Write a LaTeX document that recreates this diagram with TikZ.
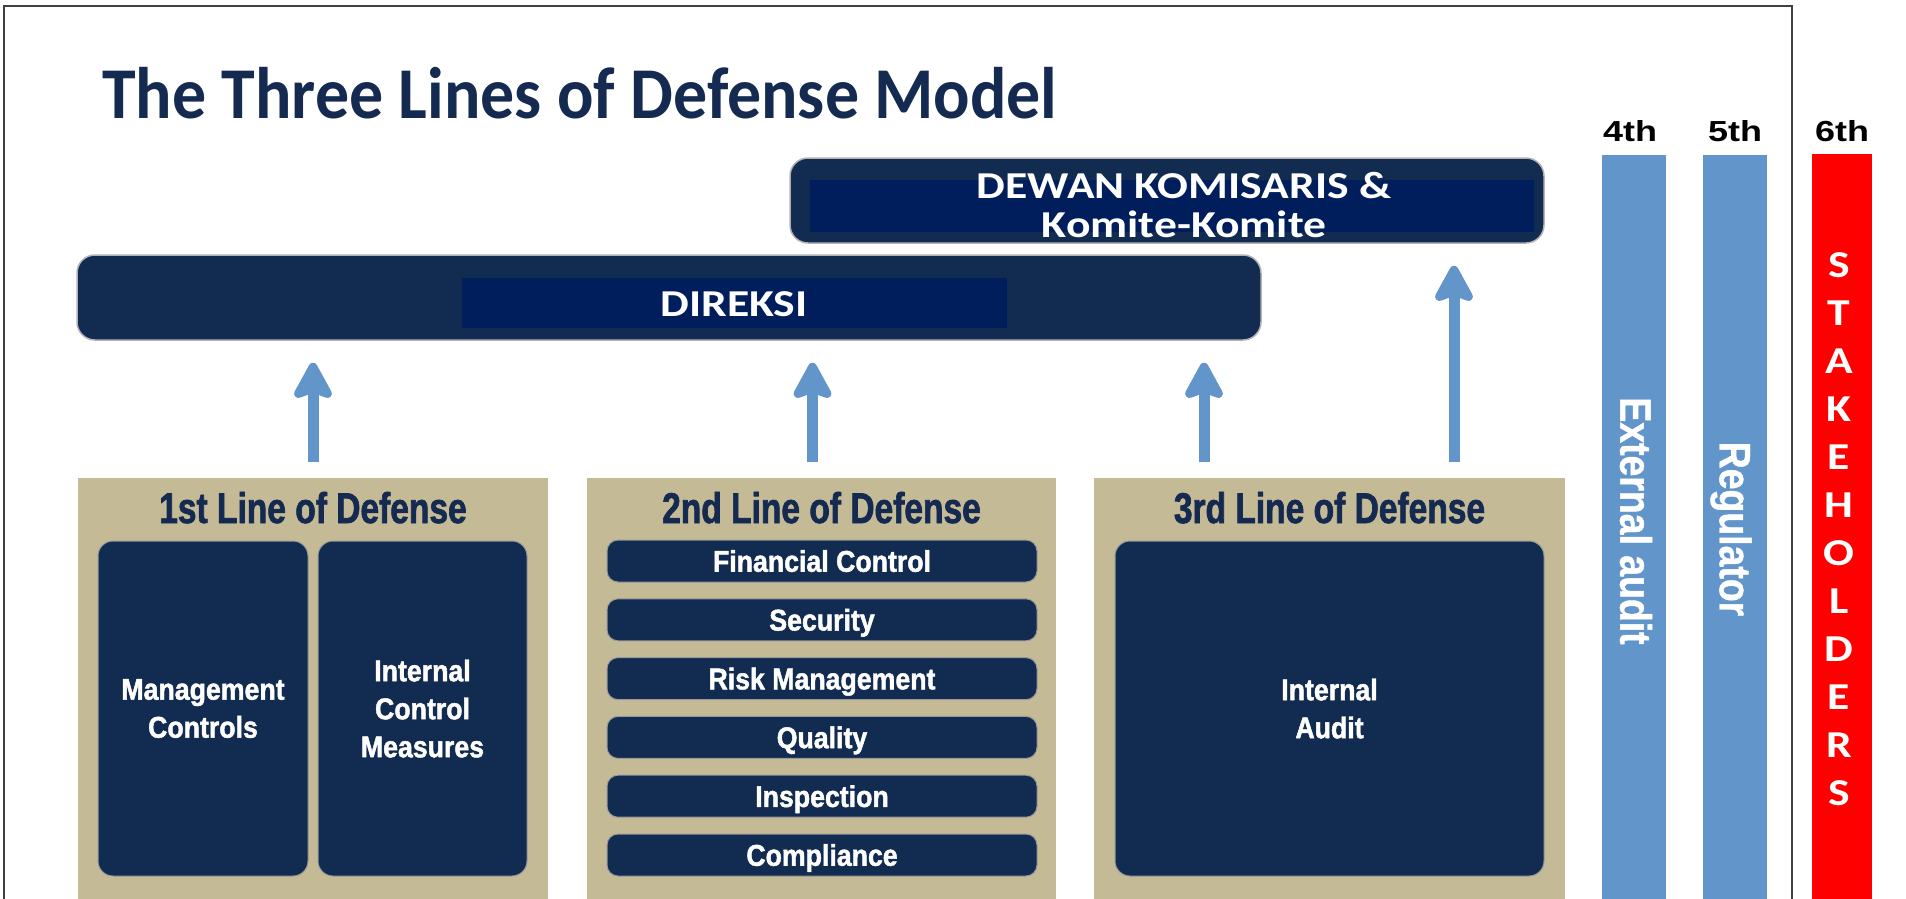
\documentclass[tikz,border=0pt]{standalone}
\usepackage{fontspec}
\usetikzlibrary{arrows.meta,positioning}
\newfontfamily\titlefont[FakeStretch=0.93]{Carlito}
\newfontfamily\boardfont[FakeStretch=1.2]{Carlito}
\newfontfamily\linefont[FakeStretch=0.78,FakeBold=1.5]{Liberation Sans}
\newfontfamily\unitfont[FakeStretch=0.89,FakeBold=1.5]{Liberation Sans}
\newfontfamily\rankfont[FakeStretch=1.24]{Liberation Sans}
\newfontfamily\sidefont[FakeStretch=0.85,FakeBold=1]{Liberation Sans}
\definecolor{navyfill}{RGB}{18,43,80}
\definecolor{navydeep}{RGB}{0,30,92}
\definecolor{navytext}{RGB}{20,42,80}
\definecolor{tanfill}{RGB}{197,186,150}
\definecolor{skyblue}{RGB}{98,149,201}
\definecolor{stakered}{RGB}{255,0,0}

\begin{document}
\begin{tikzpicture}[x=1pt, y=-1pt,
  board/.style={fill=navyfill, draw=black!30, line width=1.5pt, rounded corners=18pt, inner sep=0pt},
  boardin/.style={fill=navydeep, inner sep=0pt},
  boardtext/.style={text=white, align=center, inner sep=0pt, font=\boardfont\bfseries\fontsize{38}{39}\selectfont},
  tanbox/.style={fill=tanfill, inner sep=0pt, minimum width=470pt, minimum height=422pt},
  linehead/.style={anchor=base, inner sep=0pt, text=navytext, font=\linefont\bfseries\fontsize{43}{45}\selectfont},
  unit/.style={fill=navyfill, draw=black!40, line width=1pt, rounded corners=15pt, text=white, align=center, inner sep=0pt, font=\unitfont\bfseries\fontsize{30}{38}\selectfont},
  bar/.style={unit, rounded corners=11pt, minimum width=430pt, minimum height=42pt, text height=21.5pt, text depth=0pt},
  uparrow/.style={draw=skyblue, line width=11pt, -{Stealth[length=43pt, width=46pt, inset=8pt, round]}, shorten <=16pt, shorten >=22pt},
  column/.style={fill=#1, inner sep=0pt, minimum width=64pt, minimum height=745pt},
  rank/.style={anchor=base, inner sep=0pt, font=\rankfont\bfseries\fontsize{29}{30}\selectfont},
  sidetext/.style={rotate=-90, text=white, inner sep=0pt, font=\sidefont\bfseries\fontsize{44}{46}\selectfont},
  stake/.style={text=white, inner sep=0pt, font=\boardfont\bfseries\fontsize{38}{40}\selectfont}]
  \useasboundingbox (0,0) rectangle (1906,898);
  \draw[black!75, line width=1.5pt] (4,900) -- (4,6) -- (1792,6) -- (1792,900);

  \node[anchor=base west, inner sep=0pt, text=navytext, font=\titlefont\bfseries\fontsize{73}{80}\selectfont] (title) at (102,118) {The Three Lines of Defense Model};

  \node[board, minimum width=754pt, minimum height=85pt] (dewan) at (1167,200.5) {};
  \node[boardin, minimum width=724pt, minimum height=52pt] (dewanin) at (1172,206) {};
  \node[boardtext] (dewantext) at (1184,205) {DEWAN KOMISARIS \&\\Komite-Komite};
  \node[board, minimum width=1184pt, minimum height=85pt] (direksi) at (669,297.5) {};
  \node[boardin, minimum width=545pt, minimum height=50pt] (direksiin) at (734.5,303) {};
  \node[boardtext] (direksitext) at (734,304) {DIREKSI};

  \node[tanbox] (tanone) at (313,689) {};
  \node[tanbox, minimum width=469pt] (tantwo) at (821.5,689) {};
  \node[tanbox, minimum width=471pt] (tanthree) at (1329.5,689) {};
  \node[linehead] (headone) at (313,523) {1st Line of Defense};
  \node[linehead] (headtwo) at (821.5,523) {2nd Line of Defense};
  \node[linehead] (headthree) at (1329.5,523) {3rd Line of Defense};

  \node[unit, minimum width=210pt, minimum height=335pt] (mgmt) at (203,708.5) {Management\\Controls};
  \node[unit, minimum width=209pt, minimum height=335pt] (icm) at (422.5,708.5) {Internal\\Control\\Measures};
  \foreach \txt [count=\i from 0] in {Financial Control, Security, Risk Management, Quality, Inspection, Compliance}
    \node[bar] (bar\i) at (822,561+58.8*\i) {\txt};
  \node[unit, minimum width=429pt, minimum height=335pt] (audit) at (1329.5,708.5) {Internal\\Audit};

  \coordinate (atwo) at ([xshift=-9pt]tantwo.north);
  \coordinate (athree) at ([xshift=-125.5pt]tanthree.north);
  \coordinate (afour) at ([xshift=124.5pt]tanthree.north);
  \draw[uparrow] (tanone.north) -- (tanone.north |- direksi.south);
  \draw[uparrow] (atwo) -- (atwo |- direksi.south);
  \draw[uparrow] (athree) -- (athree |- direksi.south);
  \draw[uparrow] (afour) -- (afour |- dewan.south);

  \node[rank] (fourth) at (1630,141) {4th};
  \node[rank] (fifth) at (1735,141) {5th};
  \node[rank] (sixth) at (1842,141) {6th};
  \node[column=skyblue] (extcol) at (1634,527.5) {};
  \node[column=skyblue] (regcol) at (1735,527.5) {};
  \node[column=stakered, minimum width=60pt, minimum height=746pt] (stakecol) at (1842,527) {};
  \node[sidetext] (external) at (1636,521) {External audit};
  \node[sidetext] (regulator) at (1731,529) {Regulator};
  \foreach \ch [count=\i from 0] in {S,T,A,K,E,H,O,L,D,E,R,S}
    \node[stake] (stake\i) at (1839,265+48*\i) {\ch};
\end{tikzpicture}
\end{document}
